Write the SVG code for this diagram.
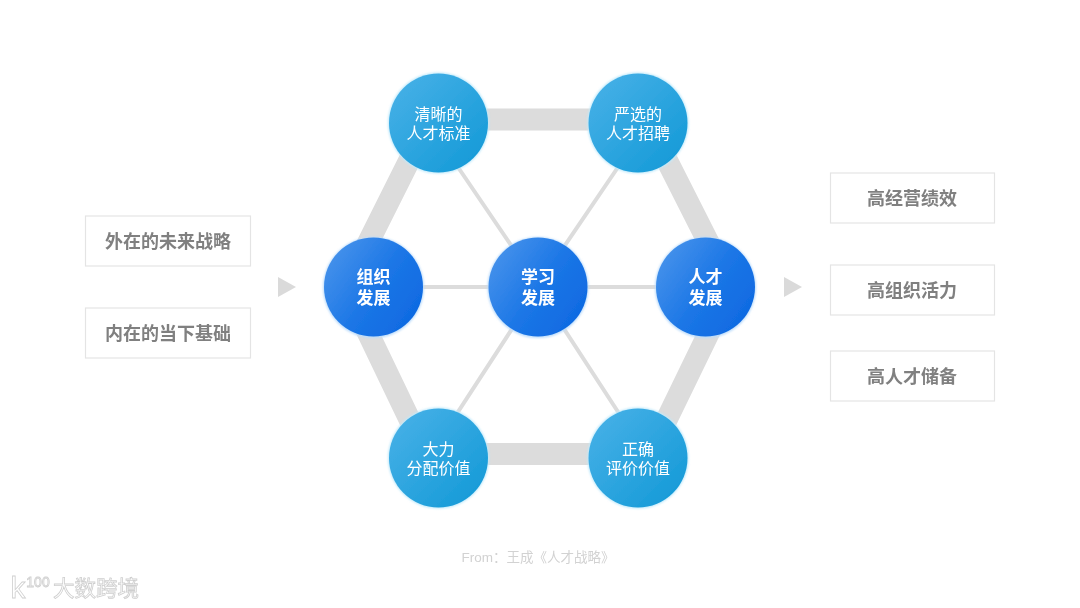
<svg xmlns="http://www.w3.org/2000/svg" width="1080" height="608" viewBox="0 0 1080 608">
<defs>
<linearGradient id="cy" x1="0" y1="0" x2="1" y2="1"><stop offset="0" stop-color="#4ab2e8"/><stop offset="1" stop-color="#1098d6"/></linearGradient>
<linearGradient id="bl" x1="0" y1="0" x2="1" y2="0.7"><stop offset="0" stop-color="#4f98ec"/><stop offset="0.6" stop-color="#1b76e6"/><stop offset="1" stop-color="#0f6ae2"/></linearGradient>
<filter id="soft" x="-10%" y="-10%" width="120%" height="120%"><feGaussianBlur stdDeviation="0.7"/></filter>
<filter id="glow" x="-10%" y="-10%" width="120%" height="120%"><feGaussianBlur stdDeviation="1.2"/></filter>
</defs>
<style>
text{font-family:"Liberation Sans","Noto Sans CJK SC",sans-serif;text-anchor:middle}
.thick{stroke:#dcdcdc;stroke-width:22;fill:none}
.thin{stroke:#dcdcdc;stroke-width:4;fill:none}
.box{fill:#fff;stroke:#e4e4e4;stroke-width:1.2}
.boxt{font-size:18px;font-weight:700;fill:#808080}
.halo{fill:#bfe9fb;filter:url(#glow)}
.haloB{fill:#bcdcfb;filter:url(#glow)}
.c{fill:url(#cy)}.b{fill:url(#bl)}
.ct{font-size:16px;fill:#fff}
.bt{font-size:17px;font-weight:700;fill:#fff}
.tri{fill:#dadada}
</style>
<rect width="1080" height="608" fill="#fff"/>
<g id="connectors">
<path class="thick" d="M428 119.500H648M648 123L731 287L648 458M648 454H428M428 458L346 287L428 123"/>
<path class="thin" d="M428 123L538 285L648 123M373.500 287H705.500M428 458L538 289L648 458"/>
</g>
<g id="arrow-left"><polygon class="tri" points="278,277 296,287 278,297"/></g>
<g id="arrow-right"><polygon class="tri" points="784,277 802,287 784,297"/></g>
<g filter="url(#soft)">
<g id="in-1"><rect class="box" x="85.500" y="216" width="165" height="50"/><text class="boxt" x="168" y="248">外在的未来战略</text></g>
<g id="in-2"><rect class="box" x="85.500" y="308" width="165" height="50"/><text class="boxt" x="168" y="340">内在的当下基础</text></g>
<g id="out-1"><rect class="box" x="830.500" y="173" width="164" height="50"/><text class="boxt" x="912" y="205">高经营绩效</text></g>
<g id="out-2"><rect class="box" x="830.500" y="265" width="164" height="50"/><text class="boxt" x="912" y="297">高组织活力</text></g>
<g id="out-3"><rect class="box" x="830.500" y="351" width="164" height="50"/><text class="boxt" x="912" y="383">高人才储备</text></g>
<g id="n-top-left"><circle class="halo" cx="438.500" cy="123" r="50.500"/><circle class="c" cx="438.500" cy="123" r="49.500"/><text class="ct" x="438.500" y="120">清晰的</text><text class="ct" x="438.500" y="139">人才标准</text></g>
<g id="n-top-right"><circle class="halo" cx="638" cy="123" r="50.500"/><circle class="c" cx="638" cy="123" r="49.500"/><text class="ct" x="638" y="120">严选的</text><text class="ct" x="638" y="139">人才招聘</text></g>
<g id="n-left"><circle class="haloB" cx="373.500" cy="287.500" r="50.500"/><circle class="b" cx="373.500" cy="287" r="49.500"/><text class="bt" x="373.500" y="283">组织</text><text class="bt" x="373.500" y="304">发展</text></g>
<g id="n-center"><circle class="haloB" cx="538" cy="287.500" r="50.500"/><circle class="b" cx="538" cy="287" r="49.500"/><text class="bt" x="538" y="283">学习</text><text class="bt" x="538" y="304">发展</text></g>
<g id="n-right"><circle class="haloB" cx="705.500" cy="287.500" r="50.500"/><circle class="b" cx="705.500" cy="287" r="49.500"/><text class="bt" x="705.500" y="283">人才</text><text class="bt" x="705.500" y="304">发展</text></g>
<g id="n-bottom-left"><circle class="halo" cx="438.500" cy="458" r="50.500"/><circle class="c" cx="438.500" cy="458" r="49.500"/><text class="ct" x="438.500" y="455">大力</text><text class="ct" x="438.500" y="474">分配价值</text></g>
<g id="n-bottom-right"><circle class="halo" cx="638" cy="458" r="50.500"/><circle class="c" cx="638" cy="458" r="49.500"/><text class="ct" x="638" y="455">正确</text><text class="ct" x="638" y="474">评价价值</text></g>
<text x="538" y="562" font-size="13.500" fill="#d2d2d2">From：王成《人才战略》</text>
<g id="watermark" fill="#fff" stroke="#cfcfcf" stroke-width="0.800">
<text x="18" y="598" font-size="30">k</text>
<text x="38" y="587" font-size="14">100</text>
<text x="96" y="596" font-size="21.500">大数跨境</text>
</g>
</g>
</svg>
